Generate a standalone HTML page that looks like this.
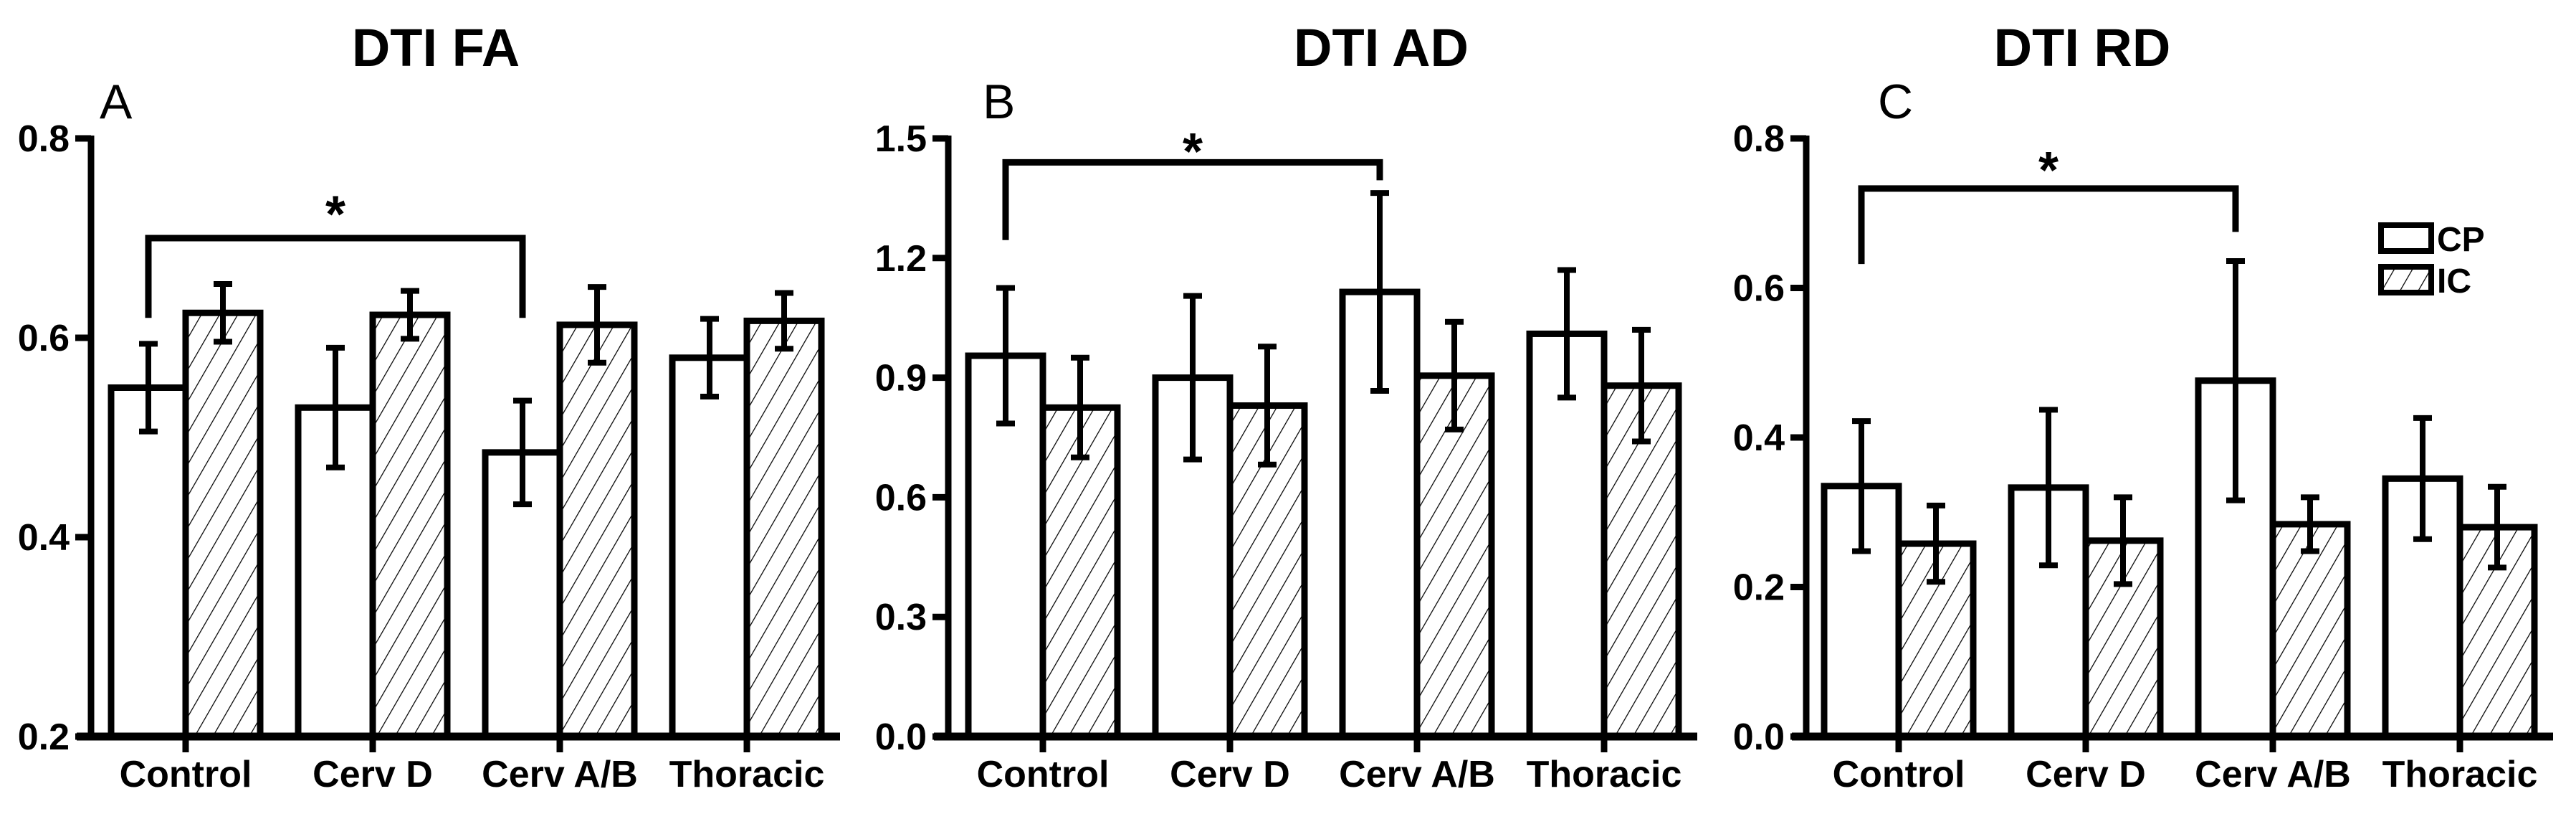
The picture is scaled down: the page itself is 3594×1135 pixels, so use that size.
<!DOCTYPE html>
<html><head><meta charset="utf-8"><style>
html,body{margin:0;padding:0;background:#fff;}
svg{display:block;}
text{font-family:"Liberation Sans",Arial,sans-serif;}
.nar{font-family:"Liberation Sans Narrow","Liberation Sans",Arial,sans-serif;}
</style></head><body>
<svg id="chart" width="3594" height="1135" viewBox="0 0 3594 1135" xmlns="http://www.w3.org/2000/svg">
<defs>
<pattern id="hatch" patternUnits="userSpaceOnUse" width="22" height="22" patternTransform="rotate(30)">
<rect width="22" height="22" fill="#fff"/>
<line x1="0" y1="0" x2="0" y2="22" stroke="#000" stroke-width="2.5"/>
</pattern>
</defs>
</svg>
<script>
const categories = ["Control","Cerv D","Cerv A/B","Thoracic"];
const seriesNames = ["CP","IC"];
// Panel A: DTI FA
const faCP = [0.550, 0.530, 0.485, 0.580];
const faCPerr = [0.044, 0.060, 0.052, 0.039];
const faIC = [0.625, 0.623, 0.613, 0.617];
const faICerr = [0.029, 0.024, 0.038, 0.028];
const faTicks = [0.2, 0.4, 0.6, 0.8];
const faTickLabels = ["0.2","0.4","0.6","0.8"];
const faBracket = [0.700, 0.620, 0.620, 0.735]; // level, leftEnd, rightEnd, star
// Panel B: DTI AD
const adCP = [0.955, 0.900, 1.115, 1.010];
const adCPerr = [0.170, 0.205, 0.248, 0.160];
const adIC = [0.825, 0.830, 0.905, 0.880];
const adICerr = [0.125, 0.148, 0.135, 0.140];
const adTicks = [0.0, 0.3, 0.6, 0.9, 1.2, 1.5];
const adTickLabels = ["0.0","0.3","0.6","0.9","1.2","1.5"];
const adBracket = [1.440, 1.245, 1.395, 1.495];
// Panel C: DTI RD
const rdCP = [0.335, 0.333, 0.476, 0.345];
const rdCPerr = [0.087, 0.104, 0.160, 0.081];
const rdIC = [0.258, 0.262, 0.284, 0.280];
const rdICerr = [0.051, 0.058, 0.036, 0.054];
const rdTicks = [0.0, 0.2, 0.4, 0.6, 0.8];
const rdTickLabels = ["0.0","0.2","0.4","0.6","0.8"];
const rdBracket = [0.733, 0.632, 0.675, 0.772];

const NS = "http://www.w3.org/2000/svg";
const svg = document.getElementById("chart");
function mk(tag, attrs, parent){
  const e = document.createElementNS(NS, tag);
  for (const k in attrs) e.setAttribute(k, attrs[k]);
  (parent||svg).appendChild(e);
  return e;
}
const TOP = 193, BOT = 1027, STEP = 261, HALF = 104, LW = 9;

function panel(cfg){
  const g = mk("g", {});
  
  
  const ymin = cfg.ticks[0], ymax = cfg.ticks[cfg.ticks.length-1];
  const y = v => BOT - (v - ymin) / (ymax - ymin) * (BOT - TOP);
  const gx = i => cfg.t0 + i * STEP;
  const t = mk("text", {x: cfg.titleX, y: 92, "font-size": 74, "font-weight": "bold", "text-anchor": "middle"}, g);
  t.textContent = cfg.title;
  
  
  const l = mk("text", {x: cfg.letterX, y: 165, "font-size": 68}, g);
  l.textContent = cfg.letter;
  
  
  for (let i = 0; i < categories.length; i++){
    const c = gx(i);
    const bars = [[cfg.cp, cfg.cpErr, c - HALF, "#fff", "cp"], [cfg.ic, cfg.icErr, c, "url(#hatch)", "ic"]];
    for (const [vals, errs, x0, fill, nm] of bars){
      const v = vals[i], yt = y(v);
      const r = mk("rect", {x: x0, y: yt, width: HALF, height: BOT - yt, fill: fill, stroke: "#000", "stroke-width": LW}, g);
      
      
      const ex = x0 + HALF/2;
      const eb = mk("path", {d: `M${ex},${y(v+errs[i])}V${y(v-errs[i])}M${ex-13},${y(v+errs[i])}H${ex+13}M${ex-13},${y(v-errs[i])}H${ex+13}`, stroke: "#000", "stroke-width": 8, fill: "none"}, g);
      
      
    }
    const tk = mk("line", {x1: c, y1: BOT, x2: c, y2: BOT + 22, stroke: "#000", "stroke-width": LW}, g);
    
    
    const cl = mk("text", {x: c, y: 1097, "font-size": 52, "font-weight": "bold", "text-anchor": "middle", "class": "nar"}, g);
    cl.textContent = categories[i];
    
    
  }
  const ya = mk("line", {x1: cfg.ax, y1: TOP - 4, x2: cfg.ax, y2: BOT + 4, stroke: "#000", "stroke-width": LW}, g);
  
  
  const xa = mk("line", {x1: cfg.ax - 20, y1: BOT, x2: gx(3) + 130, y2: BOT, stroke: "#000", "stroke-width": LW + 2}, g);
  
  
  for (let k = 0; k < cfg.ticks.length; k++){
    const yy = y(cfg.ticks[k]);
    const tl = mk("line", {x1: cfg.ax - 22, y1: yy, x2: cfg.ax, y2: yy, stroke: "#000", "stroke-width": LW}, g);
    
    
    const tt = mk("text", {x: cfg.ax - 30, y: yy + 18, "font-size": 52, "font-weight": "bold", "text-anchor": "end", "class": "nar"}, g);
    tt.textContent = cfg.tickLabels[k];
    
    
  }
  const bx1 = gx(0) - HALF/2, bx2 = gx(2) - HALF/2;
  const br = mk("path", {d: `M${bx1},${y(cfg.bracket[1])}V${y(cfg.bracket[0])}H${bx2}V${y(cfg.bracket[2])}`, stroke: "#000", "stroke-width": 9, fill: "none"}, g);
  
  
  const st = mk("text", {x: (bx1 + bx2)/2, y: y(cfg.bracket[3]) + 40, "font-size": 72, "font-weight": "bold", "text-anchor": "middle"}, g);
  st.textContent = "*";
  
  
}

panel({name: "panel-fa", title: "DTI FA", letter: "A", titleX: 608, letterX: 139, ax: 127, t0: 259, cp: faCP, cpErr: faCPerr, ic: faIC, icErr: faICerr, ticks: faTicks, tickLabels: faTickLabels, bracket: faBracket});
panel({name: "panel-ad", title: "DTI AD", letter: "B", titleX: 1927, letterX: 1371, ax: 1323, t0: 1455, cp: adCP, cpErr: adCPerr, ic: adIC, icErr: adICerr, ticks: adTicks, tickLabels: adTickLabels, bracket: adBracket});
panel({name: "panel-rd", title: "DTI RD", letter: "C", titleX: 2905, letterX: 2620, ax: 2520, t0: 2649, cp: rdCP, cpErr: rdCPerr, ic: rdIC, icErr: rdICerr, ticks: rdTicks, tickLabels: rdTickLabels, bracket: rdBracket});

const lg = mk("g", {});


const fills = ["#fff", "url(#hatch)"];
for (let s = 0; s < seriesNames.length; s++){
  const yy = 314 + s * 58;
  const b = mk("rect", {x: 3322, y: yy, width: 70, height: 36, fill: fills[s], stroke: "#000", "stroke-width": 8}, lg);
  
  
  const tx = mk("text", {x: 3400, y: yy + 36, "font-size": 48, "font-weight": "bold", "class": "nar"}, lg);
  tx.textContent = seriesNames[s];
  
  
}
</script>
</body></html>
